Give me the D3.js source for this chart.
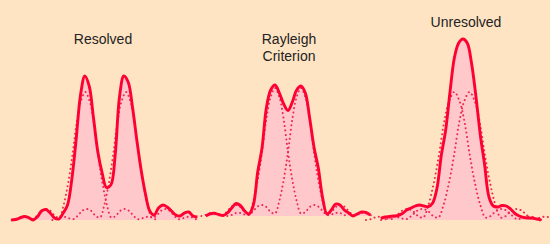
<!DOCTYPE html>
<html>
<head>
<meta charset="utf-8">
<script src="https://cdn.jsdelivr.net/npm/d3@7"></script>
<style>
  html, body { margin: 0; padding: 0; background: #ffe4c4; }
  svg { display: block; }
  .title { font-family: "Liberation Sans", Arial, sans-serif; font-size: 14px; fill: #222; text-anchor: middle; }
  .area { fill: #ffc9cb; stroke: none; }
  .sum { fill: none; stroke: #ff0033; stroke-width: 2.9px; stroke-linejoin: round; }
  .single { fill: none; stroke: #ee2a50; stroke-width: 2px; stroke-dasharray: 0.1 4.3; stroke-linecap: round; }
</style>
</head>
<body>
<div id="chart"></div>
<script>
// panel titles
var titles = [["Resolved"], ["Rayleigh", "Criterion"], ["Unresolved"]];

// one star's diffraction profile (dotted curves), heights from centre outward
var profile = [128, 119, 97, 64, 36, 15, 2.5, 4, 9, 11, 9.5, 5, 1, 1.5, 3, 3, 1, 0];

// where the two stars sit in each panel (sample units from panel centre)
var resolvedPeaks = [-4.9, 4.5];
var rayleighPeaks = [-3, 3];
var unresolvedPeaks = [-2, 1.5];

// summed intensity (solid curves), one value per sample step, left to right
var resolvedStart = -22;
var resolvedSum = [0, 0.5, 2, 3.5, 2.5, 0, 3, 9, 10.5, 7, 2, 1, 7, 15, 41, 81, 125, 144, 134, 102, 68, 47,
  32.5, 35, 65, 123, 144, 138, 113, 80, 50, 26, 9, 5, 12, 15, 13, 9, 5, 4, 7, 8, 4, 3];

var rayleighStart = -19;
var rayleighSum = [0, 2.2, 2.7, 1.5, 0.5, 3, 8, 12.5, 10.5, 5, 2, 11, 44, 68, 108, 126, 131, 123, 112,
  105.5, 114, 126, 130, 123, 98, 69, 48, 18, 2, 6, 12, 11, 6, 3, 0, 2, 4, 3.5, 1];

var unresolvedStart = -19;
var unresolvedSum = [1.7, 3, 3.5, 4, 4.5, 6.5, 10, 12, 14, 15, 14, 13.3, 17, 32, 65, 90, 128, 162, 177,
  181, 176.7, 156, 123, 85, 55, 23, 14, 13, 14.5, 14, 11, 6.5, 4, 2.5, 2, 2, 1, 0];

var width = 550, height = 244;
var step = 4.33;

var panels = [
  {cx: 106.5, base: 220, peaks: resolvedPeaks, start: resolvedStart, sum: resolvedSum, spread: 1,
   title: titles[0], tx: 103, ty: 44},
  {cx: 288, base: 216, peaks: rayleighPeaks, start: rayleighStart, sum: rayleighSum, spread: 1,
   title: titles[1], tx: 289, ty: 44},
  {cx: 463, base: 220, peaks: unresolvedPeaks, start: unresolvedStart, sum: unresolvedSum, spread: 1.2,
   title: titles[2], tx: 466, ty: 27}
];

var svg = d3.select('#chart').append('svg')
  .attr('width', width)
  .attr('height', height);

svg.append('rect')
  .attr('width', width)
  .attr('height', height)
  .attr('fill', '#ffe4c4');

panels.forEach(function(p) {
  var x = d3.scaleLinear().domain([0, 1]).range([p.cx, p.cx + step]);
  var y = d3.scaleLinear().domain([0, 200]).range([p.base, p.base - 200]);

  var sumPts = p.sum.map(function(v, i) { return [p.start + i, v]; });

  var g = svg.append('g');

  g.append('path')
    .attr('class', 'area')
    .attr('d', d3.area()
      .x(function(d) { return x(d[0]); })
      .y0(y(0))
      .y1(function(d) { return y(d[1]); })
      .curve(d3.curveCatmullRom.alpha(0.5))(sumPts));

  // the two single-star curves
  var line = d3.line()
    .x(function(d) { return x(d[0]); })
    .y(function(d) { return y(d[1]); })
    .curve(d3.curveCatmullRom.alpha(0.5));

  p.peaks.forEach(function(c) {
    var pts = [];
    for (var k = -(profile.length - 1); k < profile.length; k++) {
      pts.push([c + k * p.spread, profile[Math.abs(k)]]);
    }
    g.append('path')
      .attr('class', 'single')
      .attr('d', line(pts));
  });

  g.append('path')
    .attr('class', 'sum')
    .attr('d', line(sumPts));

  var t = g.append('text')
    .attr('class', 'title')
    .attr('x', p.tx)
    .attr('y', p.ty);
  p.title.forEach(function(s, i) {
    t.append('tspan')
      .attr('x', p.tx)
      .attr('dy', i ? 17 : 0)
      .text(s);
  });
});
</script>
</body>
</html>
